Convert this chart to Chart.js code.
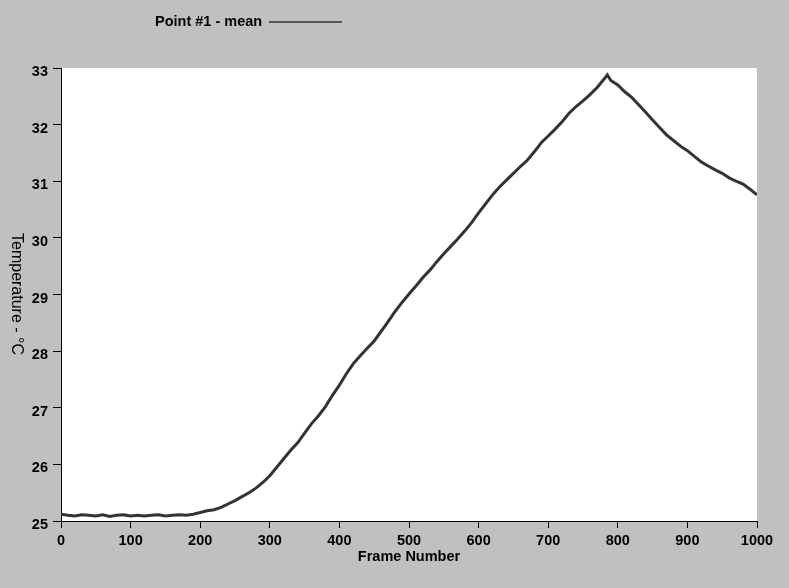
<!DOCTYPE html>
<html>
<head>
<meta charset="utf-8">
<script src="https://cdn.jsdelivr.net/npm/chart.js@4"></script>
<style>
  html, body { margin: 0; padding: 0; background: #c0c0c0; }
  #wrap { width: 789px; height: 588px; }
</style>
</head>
<body>
<div id="wrap"><canvas id="tempchart" width="789" height="588"></canvas></div>
<script>
// frame numbers and mean temperature of point #1
var frames = [0, 10, 20, 30, 40, 50, 60, 70, 80, 90,
  100, 110, 120, 130, 140, 150, 160, 170, 180, 190,
  200, 210, 220, 230, 240, 250, 260, 270, 280, 290,
  300, 310, 320, 330, 340, 350, 360, 370, 380, 390,
  400, 410, 420, 430, 440, 450, 460, 470, 480, 490,
  500, 510, 520, 530, 540, 550, 560, 570, 580, 590,
  600, 610, 620, 630, 640, 650, 660, 670, 680, 690,
  700, 710, 720, 730, 740, 750, 760, 770, 780, 785, 790,
  800, 810, 820, 830, 840, 850, 860, 870, 880, 890,
  900, 910, 920, 930, 940, 950, 960, 970, 980, 990, 1000];
var tempMean = [25.12, 25.10, 25.09, 25.11, 25.10, 25.09, 25.11, 25.08, 25.10, 25.11,
  25.09, 25.10, 25.09, 25.10, 25.11, 25.09, 25.10, 25.11, 25.10, 25.12,
  25.15, 25.18, 25.20, 25.24, 25.30, 25.36, 25.43, 25.50, 25.58, 25.68,
  25.80, 25.95, 26.10, 26.25, 26.38, 26.55, 26.72, 26.86, 27.02, 27.22,
  27.40, 27.60, 27.78, 27.92, 28.05, 28.18, 28.35, 28.52, 28.70, 28.86,
  29.01, 29.15, 29.30, 29.43, 29.58, 29.72, 29.85, 29.98, 30.12, 30.27,
  30.44, 30.60, 30.76, 30.90, 31.02, 31.14, 31.26, 31.37, 31.52, 31.68,
  31.80, 31.92, 32.05, 32.20, 32.32, 32.42, 32.53, 32.65, 32.80, 32.88, 32.78,
  32.70, 32.58, 32.48, 32.35, 32.22, 32.08, 31.95, 31.82, 31.72, 31.62,
  31.54, 31.44, 31.34, 31.27, 31.20, 31.14, 31.06, 31.00, 30.95, 30.86, 30.76];
var yTicks = [25, 26, 27, 28, 29, 30, 31, 32, 33];
var xTicks = [0, 100, 200, 300, 400, 500, 600, 700, 800, 900, 1000];

var points = frames.map(function (f, i) { return { x: f, y: tempMean[i] }; });
var font = "'Liberation Sans', Arial, sans-serif";

// white plot area, legend and rotated y title
var decor = {
  id: 'decor',
  beforeDraw: function (chart) {
    var c = chart.ctx, a = chart.chartArea;
    c.save();
    c.fillStyle = '#c0c0c0';
    c.fillRect(0, 0, chart.width, chart.height);
    c.fillStyle = '#ffffff';
    c.fillRect(a.left, a.top, a.right - a.left, a.bottom - a.top);
    c.restore();
  },
  afterDraw: function (chart) {
    var c = chart.ctx;
    c.save();
    c.fillStyle = '#000';
    c.font = 'bold 14.5px ' + font;
    c.textBaseline = 'middle';
    c.fillText('Point #1 - mean', 155, 22);
    c.strokeStyle = '#333';
    c.lineWidth = 1.5;
    c.beginPath();
    c.moveTo(269, 22);
    c.lineTo(342, 22);
    c.stroke();
    c.font = '16px ' + font;
    c.translate(16, 294);
    c.rotate(Math.PI / 2);
    c.textAlign = 'center';
    c.fillText('Temperature - °C', 0, 0);
    c.restore();
  }
};

new Chart(document.getElementById('tempchart'), {
  type: 'scatter',
  data: {
    datasets: [{
      label: 'Point #1 - mean',
      data: points,
      showLine: true,
      borderColor: '#333333',
      borderWidth: 3,
      pointRadius: 0,
      tension: 0
    }]
  },
  options: {
    responsive: false,
    animation: false,
    layout: { padding: { left: 0, top: 68, right: 32, bottom: 0 } },
    plugins: {
      legend: { display: false },
      tooltip: { enabled: false }
    },
    scales: {
      x: {
        type: 'linear',
        min: 0,
        max: 1000,
        afterFit: function (s) { s.height = 67; },
        afterBuildTicks: function (s) { s.ticks = xTicks.map(function (v) { return { value: v }; }); },
        grid: { drawOnChartArea: false, color: '#000', tickLength: 7 },
        border: { color: '#000', width: 1 },
        ticks: {
          color: '#000', font: { family: font, size: 14.5, weight: 'bold' }, padding: 4, maxRotation: 0,
          callback: function (v) { return String(v); }
        },
        title: { display: true, text: 'Frame Number', color: '#000', font: { family: font, size: 14.5, weight: 'bold' }, padding: { top: 0, bottom: 22 } }
      },
      y: {
        min: 25,
        max: 33,
        afterFit: function (s) { s.width = 61; },
        afterBuildTicks: function (s) { s.ticks = yTicks.map(function (v) { return { value: v }; }); },
        grid: { drawOnChartArea: false, color: '#000', tickLength: 8 },
        border: { color: '#000', width: 1 },
        ticks: { color: '#000', font: { family: font, size: 14.5, weight: 'bold' }, padding: 5, labelOffset: 4 }
      }
    }
  },
  plugins: [decor]
});
</script>
</body>
</html>
